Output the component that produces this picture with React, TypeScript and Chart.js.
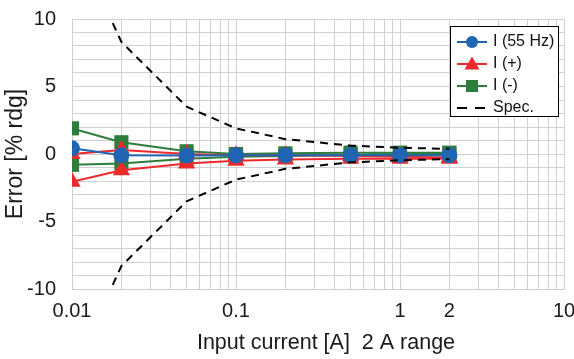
import React, { useEffect, useRef } from "react";
import { Chart, registerables } from "chart.js";

Chart.register(...registerables);

// ---- data ----
const currents = [0.01, 0.02, 0.05, 0.1, 0.2, 0.5, 1, 2];
const i55Hz = [0.42, -0.1, -0.12, -0.1, -0.1, -0.1, -0.1, -0.1];
const iPlusA = [0.0, 0.3, 0.0, -0.1, -0.1, -0.15, -0.2, -0.25];
const iPlusB = [-2.05, -1.2, -0.7, -0.5, -0.4, -0.35, -0.35, -0.35];
const iMinusA = [1.9, 0.87, 0.2, 0.0, 0.05, 0.1, 0.1, 0.1];
const iMinusB = [-0.8, -0.7, -0.35, -0.2, -0.15, -0.05, 0.0, 0.0];
const specUpper = [16.3, 8.3, 3.5, 1.9, 1.1, 0.62, 0.46, 0.38];
const specLower = [-16.3, -8.3, -3.5, -1.9, -1.1, -0.62, -0.46, -0.38];

const xLabeledTicks = [0.01, 0.1, 1, 2, 10];
const yLabeledTicks = [-10, -5, 0, 5, 10];
const legendLabels = ["I (55 Hz)", "I (+)", "I (-)", "Spec."];
const xTitle = "Input current [A]  2 A range";
const yTitle = "Error [% rdg]";

const BLUE = "#1F65B4";
const RED = "#EE2A2D";
const GREEN = "#2E7D3C";
const FONT = "'Liberation Sans', Arial, sans-serif";

const pts = (ys: number[]) => currents.map((x, i) => ({ x, y: ys[i] }));

const legendPlugin = {
  id: "boxLegend",
  afterDraw(chart: any) {
    const ctx = chart.ctx as CanvasRenderingContext2D;
    const ca = chart.chartArea;
    ctx.save();
    // x-axis title
    ctx.fillStyle = "#1a1a1a";
    ctx.font = `21.5px ${FONT}`;
    ctx.textAlign = "center";
    ctx.textBaseline = "alphabetic";
    ctx.fillText(xTitle, (ca.left + ca.right) / 2 + 8, chart.height - 10);

    // legend box
    const w = 108;
    const h = 90;
    const left = ca.right - 6 - w;
    const top = ca.top + 7;
    ctx.fillStyle = "#ffffff";
    ctx.fillRect(left, top, w, h);
    ctx.strokeStyle = "#000000";
    ctx.lineWidth = 1;
    ctx.strokeRect(left + 0.5, top + 0.5, w, h);
    const styles = [
      { color: BLUE, marker: "circle", dash: [] as number[] },
      { color: RED, marker: "triangle", dash: [] as number[] },
      { color: GREEN, marker: "rect", dash: [] as number[] },
      { color: "#000000", marker: "none", dash: [10, 8] },
    ];
    legendLabels.forEach((label, i) => {
      const y = top + 16 + i * 22;
      const s = styles[i];
      ctx.beginPath();
      ctx.setLineDash(s.dash);
      ctx.strokeStyle = s.color;
      ctx.lineWidth = 2;
      ctx.moveTo(left + 7, y);
      ctx.lineTo(left + 37, y);
      ctx.stroke();
      ctx.setLineDash([]);
      const cx = left + 22;
      ctx.fillStyle = s.color;
      if (s.marker === "circle") {
        ctx.beginPath();
        ctx.arc(cx, y, 6, 0, Math.PI * 2);
        ctx.fill();
      } else if (s.marker === "triangle") {
        ctx.beginPath();
        ctx.moveTo(cx, y - 7.5);
        ctx.lineTo(cx + 7.5, y + 5.5);
        ctx.lineTo(cx - 7.5, y + 5.5);
        ctx.closePath();
        ctx.fill();
      } else if (s.marker === "rect") {
        ctx.fillRect(cx - 6, y - 6, 12, 12);
      }
      ctx.fillStyle = "#111111";
      ctx.font = `16px ${FONT}`;
      ctx.textBaseline = "middle";
      ctx.textAlign = "left";
      ctx.fillText(label, left + 43, y);
    });
    ctx.restore();
  },
};

function logTicks(min: number, max: number) {
  const out: { value: number }[] = [];
  for (let e = Math.round(Math.log10(min)); e <= Math.round(Math.log10(max)); e++) {
    for (let m = 1; m <= 9; m++) {
      const v = Number((m * Math.pow(10, e)).toPrecision(3));
      if (v >= min - 1e-12 && v <= max + 1e-12) out.push({ value: v });
    }
  }
  return out;
}

export default function App() {
  const ref = useRef<HTMLCanvasElement | null>(null);

  useEffect(() => {
    document.body.style.margin = "0";
    if (!ref.current) return;
    const lineDs = (data: number[], color: string, style: string, radius: number, order: number) => ({
      data: pts(data),
      borderColor: color,
      backgroundColor: color,
      borderWidth: 2,
      pointStyle: style,
      pointRadius: radius,
      pointHoverRadius: radius,
      pointBorderWidth: 0,
      order,
    });
    const specDs = (data: number[]) => ({
      data: pts(data),
      borderColor: "#000000",
      backgroundColor: "#000000",
      borderWidth: 2,
      borderDash: [8, 6],
      pointRadius: 0,
      order: 0,
    });
    const chart = new Chart(ref.current, {
      type: "line",
      data: {
        datasets: [
          { label: legendLabels[0], ...lineDs(i55Hz, BLUE, "circle", 8, 1) },
          { label: legendLabels[1], ...lineDs(iPlusA, RED, "triangle", 10, 2) },
          { label: legendLabels[1], ...lineDs(iPlusB, RED, "triangle", 10, 2) },
          { label: legendLabels[2], ...lineDs(iMinusA, GREEN, "rect", 10, 3) },
          { label: legendLabels[2], ...lineDs(iMinusB, GREEN, "rect", 10, 3) },
          { label: legendLabels[3], ...specDs(specUpper) },
          { label: legendLabels[3], ...specDs(specLower) },
        ] as any,
      },
      options: {
        animation: false,
        responsive: false,
        maintainAspectRatio: false,
        layout: { padding: { top: 19, right: 10, left: 0, bottom: 0 } },
        plugins: {
          legend: { display: false },
          tooltip: { enabled: false },
        },
        scales: {
          x: {
            type: "logarithmic",
            min: 0.01,
            max: 10,
            afterBuildTicks: (scale: any) => {
              scale.ticks = logTicks(0.01, 10);
            },
            afterFit: (scale: any) => {
              scale.height = 70;
              scale.paddingLeft = 0;
              scale.paddingRight = 0;
            },
            grid: { color: "#d0d0d0", lineWidth: 1, drawTicks: false },
            border: { display: true, color: "#d0d0d0" },
            ticks: {
              autoSkip: false,
              maxRotation: 0,
              minRotation: 0,
              padding: 10,
              color: "#1a1a1a",
              font: { family: FONT, size: 20 },
              callback: (v: any) => {
                const n = Number(v);
                return xLabeledTicks.some((t) => Math.abs(t - n) < 1e-9) ? String(n) : "";
              },
            },
            title: { display: false },
          },
          y: {
            type: "linear",
            min: -10,
            max: 10,
            afterBuildTicks: (scale: any) => {
              const t: { value: number }[] = [];
              for (let v = -10; v <= 10; v++) t.push({ value: v });
              scale.ticks = t;
            },
            afterFit: (scale: any) => {
              scale.width = 72;
              scale.paddingTop = 0;
              scale.paddingBottom = 0;
            },
            grid: { color: "#d0d0d0", lineWidth: 1, drawTicks: false },
            border: { display: true, color: "#d0d0d0" },
            ticks: {
              autoSkip: false,
              padding: 16,
              color: "#1a1a1a",
              font: { family: FONT, size: 20 },
              callback: (v: any) => {
                const n = Number(v);
                return yLabeledTicks.includes(n) ? String(n) : "";
              },
            },
            title: {
              display: true,
              text: yTitle,
              color: "#1a1a1a",
              font: { family: FONT, size: 23 },
              padding: { top: 2, bottom: 0 },
            },
          },
        },
      } as any,
      plugins: [legendPlugin],
    });
    return () => chart.destroy();
  }, []);

  return (
    <div style={{ width: 574, height: 359 }}>
      <canvas ref={ref} width={574} height={359} style={{ display: "block" }} />
    </div>
  );
}
